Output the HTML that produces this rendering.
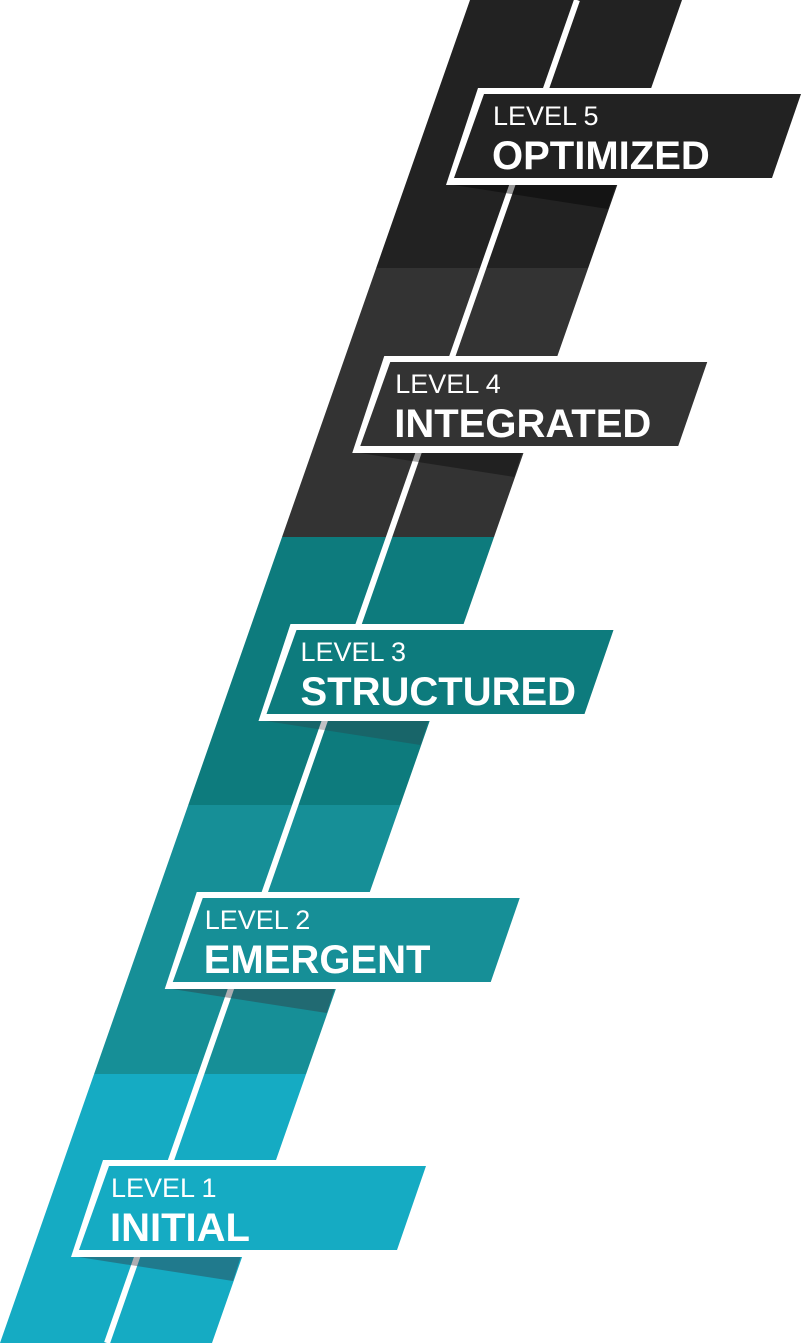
<!DOCTYPE html>
<html><head><meta charset="utf-8"><style>
html,body{margin:0;padding:0;background:#fff;}
svg{display:block;}
text{font-family:"Liberation Sans",sans-serif;fill:#fff;}
.lv{font-size:27px;font-weight:normal;}
.nm{font-size:40px;font-weight:bold;}
</style></head><body>
<svg width="812" height="1343" viewBox="0 0 812 1343" xmlns="http://www.w3.org/2000/svg">
<polygon points="470,0 682,0 588.2,268 376.2,268" fill="#222222"/>
<polygon points="376.2,268 588.2,268 494.05,537 282.05,537" fill="#333333"/>
<polygon points="282.05,537 494.05,537 400.25,805 188.25,805" fill="#0d7b7d"/>
<polygon points="188.25,805 400.25,805 306.1,1074 94.1,1074" fill="#168f97"/>
<polygon points="94.1,1074 306.1,1074 212,1343 0,1343" fill="#15abc3"/>
<line x1="577" y1="0" x2="107" y2="1343" stroke="#fff" stroke-width="6"/>

<g>
<polygon points="72,1256 241,1256 233,1281" fill="rgba(50,50,60,0.4)"/>
<polygon points="103,1160 280,1160 245,1257 71,1257" fill="#fff"/>
<polygon points="109,1166 426,1166 397,1250 79,1250" fill="#15abc3"/>
<text class="lv" x="111" y="1197">LEVEL 1</text>
<text class="nm" x="110" y="1241">INITIAL</text>
</g>
<g transform="translate(93.75,-268)">
<polygon points="72,1256 241,1256 233,1281" fill="rgba(50,50,60,0.4)"/>
<polygon points="103,1160 280,1160 245,1257 71,1257" fill="#fff"/>
<polygon points="109,1166 426,1166 397,1250 79,1250" fill="#168f97"/>
<text class="lv" x="111" y="1197">LEVEL 2</text>
<text class="nm" x="110" y="1241">EMERGENT</text>
</g>
<g transform="translate(187.5,-536)">
<polygon points="72,1256 241,1256 233,1281" fill="rgba(50,50,60,0.3)"/>
<polygon points="103,1160 280,1160 245,1257 71,1257" fill="#fff"/>
<polygon points="109,1166 426,1166 397,1250 79,1250" fill="#0d7b7d"/>
<text class="lv" x="113" y="1197">LEVEL 3</text>
<text class="nm" x="113" y="1241">STRUCTURED</text>
</g>
<g transform="translate(281.25,-804)">
<polygon points="72,1256 241,1256 233,1281" fill="rgba(0,0,0,0.35)"/>
<polygon points="103,1160 280,1160 245,1257 71,1257" fill="#fff"/>
<polygon points="109,1166 426,1166 397,1250 79,1250" fill="#333333"/>
<text class="lv" x="114" y="1197">LEVEL 4</text>
<text class="nm" x="113" y="1241">INTEGRATED</text>
</g>
<g transform="translate(375,-1072)">
<polygon points="72,1256 241,1256 233,1281" fill="rgba(0,0,0,0.4)"/>
<polygon points="103,1160 280,1160 245,1257 71,1257" fill="#fff"/>
<polygon points="109,1166 426,1166 397,1250 79,1250" fill="#222222"/>
<text class="lv" x="118" y="1197">LEVEL 5</text>
<text class="nm" x="117" y="1241">OPTIMIZED</text>
</g>
</svg>
</body></html>
